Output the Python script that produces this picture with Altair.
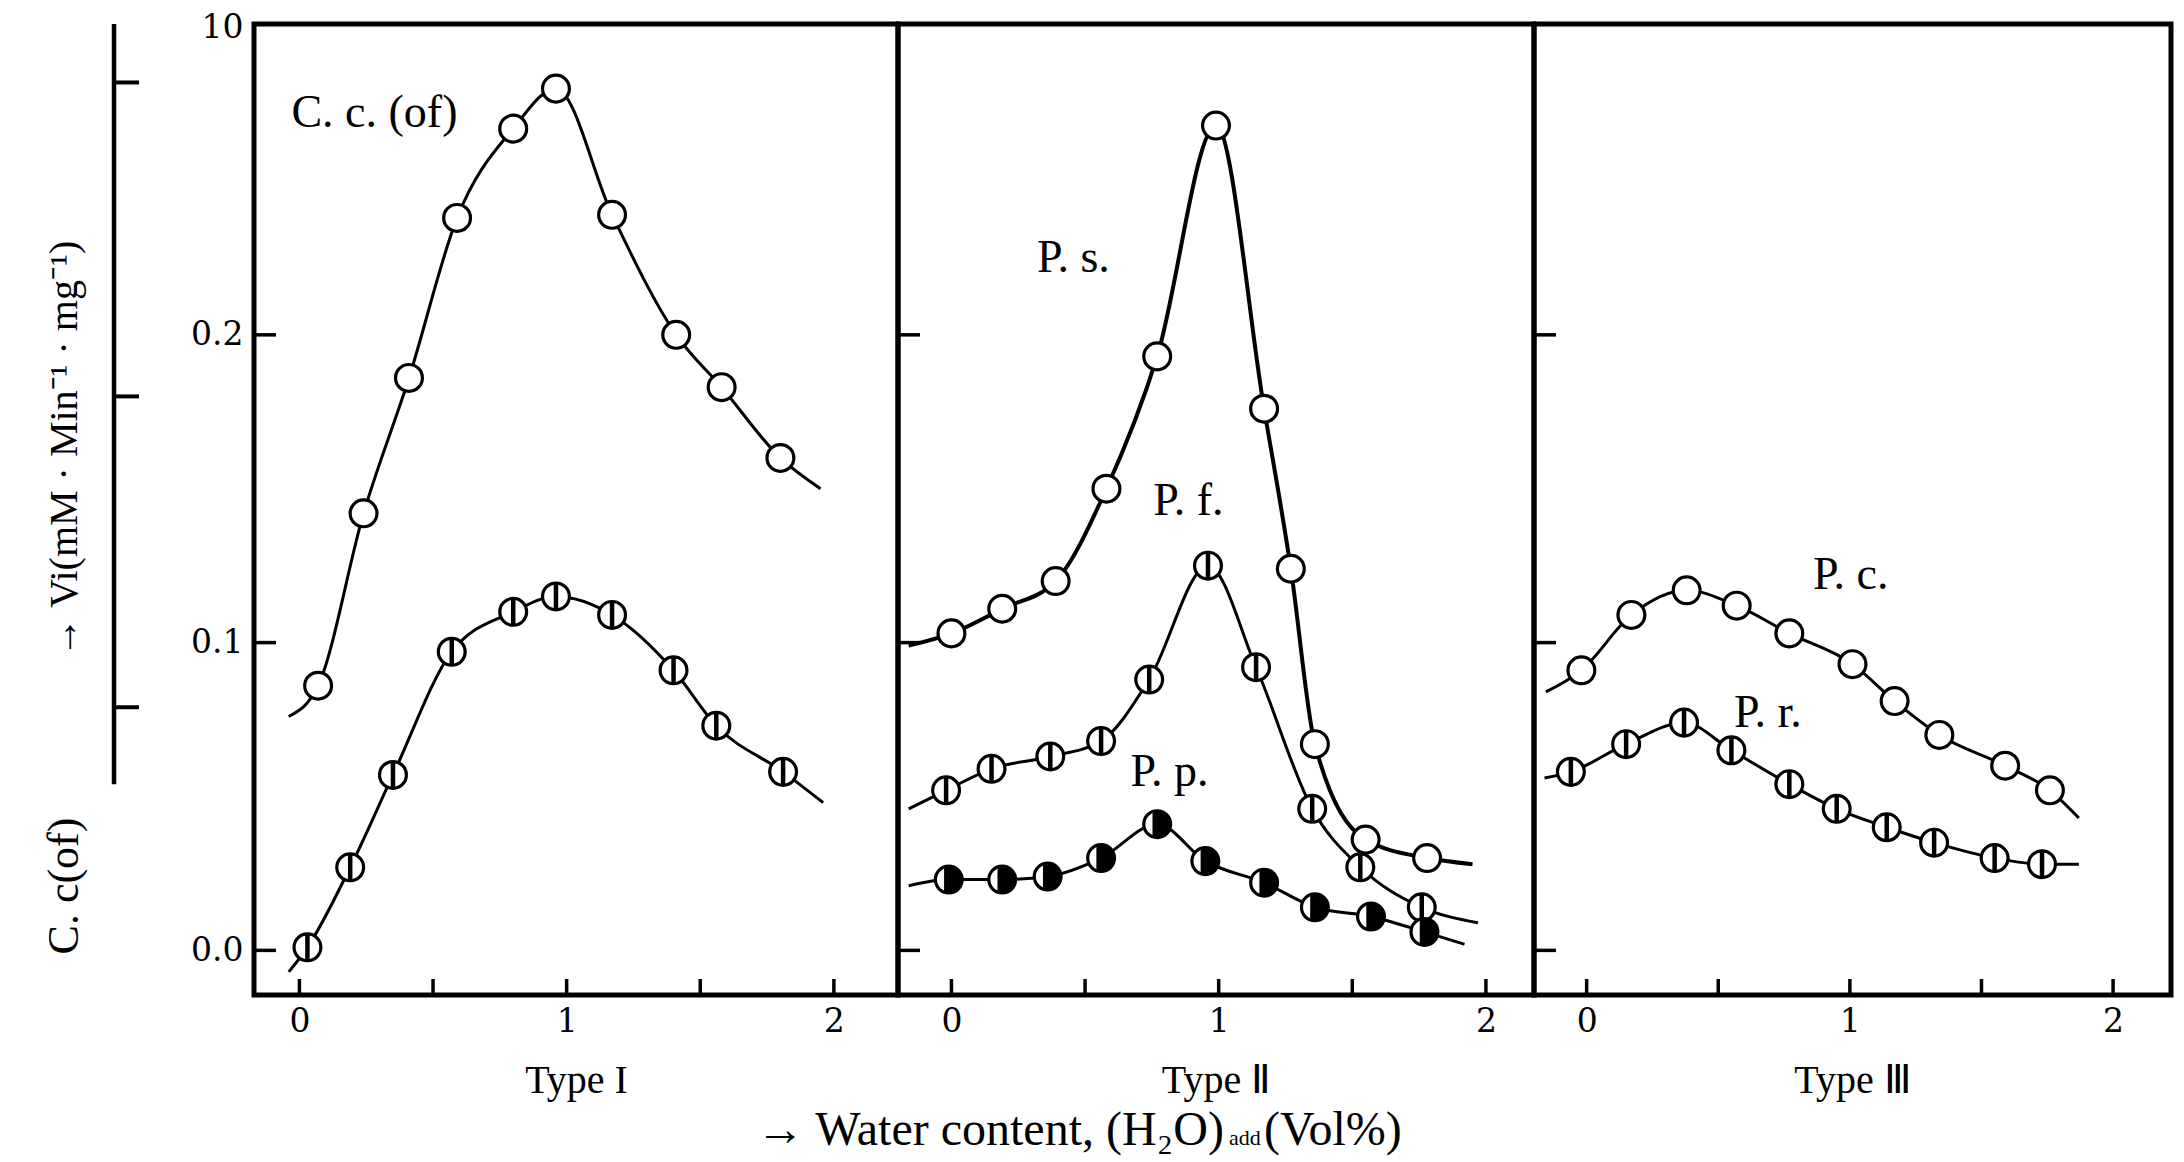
import altair as alt
import pandas as pd

FONT = "Liberation Serif"
NUMFONT = "DejaVu Serif"

# ---------------- data ----------------
# Type I
cc_open_x = [0.07, 0.24, 0.41, 0.59, 0.80, 0.96, 1.17, 1.41, 1.58, 1.80]
cc_open_y = [0.086, 0.142, 0.186, 0.238, 0.267, 0.280, 0.239, 0.200, 0.183, 0.160]
cc_open_ends = [(-0.04, 0.076), (1.95, 0.150)]

cc_bar_x = [0.03, 0.19, 0.35, 0.57, 0.80, 0.96, 1.17, 1.40, 1.56, 1.81]
cc_bar_y = [0.001, 0.027, 0.057, 0.097, 0.110, 0.115, 0.109, 0.091, 0.073, 0.058]
cc_bar_ends = [(-0.04, -0.007), (1.96, 0.048)]

# Type II
ps_x = [0.00, 0.19, 0.39, 0.58, 0.77, 0.99, 1.17, 1.27, 1.36, 1.55, 1.78]
ps_y = [0.103, 0.111, 0.120, 0.150, 0.193, 0.268, 0.176, 0.124, 0.067, 0.036, 0.030]
ps_ends = [(-0.16, 0.099), (1.95, 0.028)]

pf_x = [-0.02, 0.15, 0.37, 0.56, 0.74, 0.96, 1.14, 1.35, 1.53, 1.76]
pf_y = [0.052, 0.059, 0.063, 0.068, 0.088, 0.125, 0.092, 0.046, 0.027, 0.014]
pf_ends = [(-0.16, 0.046), (1.97, 0.009)]

pp_x = [-0.01, 0.19, 0.36, 0.56, 0.77, 0.95, 1.17, 1.36, 1.57, 1.77]
pp_y = [0.023, 0.023, 0.024, 0.030, 0.041, 0.029, 0.022, 0.014, 0.011, 0.006]
pp_ends = [(-0.16, 0.021), (1.92, 0.002)]

# Type III
pc_x = [-0.02, 0.17, 0.38, 0.57, 0.77, 1.01, 1.17, 1.34, 1.59, 1.76]
pc_y = [0.091, 0.109, 0.117, 0.112, 0.103, 0.093, 0.081, 0.070, 0.060, 0.052]
pc_ends = [(-0.155, 0.084), (1.87, 0.043)]

pr_x = [-0.06, 0.15, 0.37, 0.55, 0.77, 0.95, 1.14, 1.32, 1.55, 1.73]
pr_y = [0.058, 0.067, 0.074, 0.065, 0.054, 0.046, 0.040, 0.035, 0.030, 0.028]
pr_ends = [(-0.16, 0.056), (1.87, 0.028)]

# curve labels (text, x, y) per panel
labels_1 = [("C. c. (of)", -0.03, 0.272)]
labels_2 = [("P. s.", 0.32, 0.225), ("P. f.", 0.755, 0.146), ("P. p.", 0.67, 0.058)]
labels_3 = [("P. c.", 0.86, 0.122), ("P. r.", 0.56, 0.077)]

# secondary (C. c(of)) scale drawn at far left, in main-axis units
cc_axis_span = [0.301, 0.054]
cc_axis_ticks = [0.282, 0.180, 0.079]

y_tick_values = [0.0, 0.1, 0.2, 0.3]
x_tick_values = [0.0, 0.5, 1.0, 1.5, 2.0]
x_label_values = [0, 1, 2]

x_domains = {1: [-0.17, 2.24], 2: [-0.2, 2.18], 3: [-0.2, 2.22]}
y_domain = [-0.0145, 0.301]
panel_titles = {1: "Type  I", 2: "Type  Ⅱ", 3: "Type  Ⅲ"}

series = [
    dict(panel=1, name="cc_open", marker="open", x=cc_open_x, y=cc_open_y, ends=cc_open_ends, w=3),
    dict(panel=1, name="cc_bar", marker="bar", x=cc_bar_x, y=cc_bar_y, ends=cc_bar_ends, w=3),
    dict(panel=2, name="ps", marker="open", x=ps_x, y=ps_y, ends=ps_ends, w=4),
    dict(panel=2, name="pf", marker="bar", x=pf_x, y=pf_y, ends=pf_ends, w=3),
    dict(panel=2, name="pp", marker="filled", x=pp_x, y=pp_y, ends=pp_ends, w=3),
    dict(panel=3, name="pc", marker="open", x=pc_x, y=pc_y, ends=pc_ends, w=3),
    dict(panel=3, name="pr", marker="bar", x=pr_x, y=pr_y, ends=pr_ends, w=3),
]

pt_rows, ln_rows = [], []
for s in series:
    for xv, yv in zip(s["x"], s["y"]):
        pt_rows.append(dict(panel=s["panel"], series=s["name"], marker=s["marker"], x=xv, y=yv))
    line_pts = [s["ends"][0]] + list(zip(s["x"], s["y"])) + [s["ends"][1]]
    for i, (xv, yv) in enumerate(line_pts):
        ln_rows.append(dict(panel=s["panel"], series=s["name"], order=i, x=xv, y=yv, w=s["w"]))
pts = pd.DataFrame(pt_rows)
lns = pd.DataFrame(ln_rows)

W = {1: 644, 2: 636, 3: 637}
H = 971
MSIZE = 720
BAR_PATH = "M0,-1L0,1"
FILL_PATH = "M-0.35,-0.937A1,1,0,1,1,-0.35,0.937Z"


def text_at(t, x, y, size, angle=0, align="center", baseline="middle"):
    kw = dict(font=FONT, fontSize=size, color="black", align=align, baseline=baseline)
    if angle:
        kw["angle"] = angle
    return alt.Chart(pd.DataFrame({"t": [t]})).mark_text(**kw).encode(
        text="t:N", x=alt.value(x), y=alt.value(y))


def make_panel(p, labels):
    xs = alt.Scale(domain=x_domains[p], nice=False, zero=False)
    ys = alt.Scale(domain=y_domain, nice=False, zero=False)
    x_axis = alt.Axis(values=x_label_values, format="d", ticks=False, domain=False, grid=False,
                      labelFont=NUMFONT, labelFontSize=33, labelPadding=10, labelColor="black",
                      title=panel_titles[p], titleFont=FONT, titleFontSize=40,
                      titleFontWeight="normal", titlePadding=22, titleColor="black")
    if p == 1:
        y_axis = alt.Axis(values=y_tick_values, ticks=False, domain=False, grid=False,
                          labelExpr="datum.value == 0.3 ? '10' : format(datum.value, '.1f')",
                          labelFont=NUMFONT, labelFontSize=33, labelFontWeight="normal",
                          labelPadding=11, labelColor="black", title=None)
    else:
        y_axis = None

    X = lambda f="x": alt.X(f"{f}:Q", scale=xs, axis=x_axis)
    Y = lambda f="y": alt.Y(f"{f}:Q", scale=ys, axis=y_axis)

    lp = lns[lns.panel == p]
    pp_ = pts[pts.panel == p]

    line = alt.Chart(lp).mark_line(color="black", interpolate="monotone").encode(
        x=X(), y=Y(), detail="series:N", order="order:Q",
        strokeWidth=alt.StrokeWidth("w:Q", scale=None, legend=None))

    circles = alt.Chart(pp_).mark_circle(size=MSIZE, color="white", stroke="black",
                                         strokeWidth=3.2, opacity=1).encode(x=X(), y=Y())
    layers = [line, circles]

    bars = pp_[pp_.marker == "bar"]
    if len(bars):
        layers.append(alt.Chart(bars).mark_point(shape=BAR_PATH, size=MSIZE, filled=False,
                                                 color="black", strokeWidth=4.5, opacity=1)
                      .encode(x=X(), y=Y()))
    filled = pp_[pp_.marker == "filled"]
    if len(filled):
        layers.append(alt.Chart(filled).mark_point(shape=FILL_PATH, size=MSIZE, filled=True,
                                                   color="black", opacity=1)
                      .encode(x=X(), y=Y()))

    lab = pd.DataFrame(labels, columns=["t", "x", "y"])
    layers.append(alt.Chart(lab).mark_text(align="left", baseline="middle", font=FONT,
                                           fontSize=46, color="black")
                  .encode(x=X(), y=Y(), text="t:N"))

    # inward ticks
    yt = pd.DataFrame({"v": y_tick_values[:3]})
    layers.append(alt.Chart(yt).mark_rule(color="black", strokeWidth=3.5)
                  .encode(y=Y("v"), x=alt.value(0), x2=alt.value(22)))
    xt = pd.DataFrame({"v": x_tick_values})
    layers.append(alt.Chart(xt).mark_rule(color="black", strokeWidth=3.5)
                  .encode(x=X("v"), y=alt.value(H), y2=alt.value(H - 16)))

    if p == 1:
        sp = pd.DataFrame({"a": [cc_axis_span[0]], "b": [cc_axis_span[1]]})
        layers.append(alt.Chart(sp).mark_rule(color="black", strokeWidth=4.5)
                      .encode(x=alt.value(-140), y=Y("a"), y2="b:Q"))
        ct = pd.DataFrame({"v": cc_axis_ticks})
        layers.append(alt.Chart(ct).mark_rule(color="black", strokeWidth=4)
                      .encode(y=Y("v"), x=alt.value(-140), x2=alt.value(-115)))
        layers.append(text_at("C. c(of)", -189, 862, 44, angle=270))
        layers.append(text_at("→ Vi(mM · Min⁻¹ · mg⁻¹)", -189, 425, 40, angle=270))

    if p == 2:
        base = H + 150
        layers.append(text_at("→ Water content, (H₂O)", 326, base, 48, align="right",
                              baseline="alphabetic"))
        layers.append(text_at("add", 331, base, 22, align="left", baseline="alphabetic"))
        layers.append(text_at("(Vol%)", 366, base, 48, align="left", baseline="alphabetic"))

    return alt.layer(*layers).properties(width=W[p], height=H)


chart = alt.hconcat(
    make_panel(1, labels_1), make_panel(2, labels_2), make_panel(3, labels_3),
    spacing=0, bounds="flush"
).properties(
    padding={"left": 40, "top": 8, "right": 10, "bottom": 20},
    background="white",
).configure_view(stroke="black", strokeWidth=5)

chart.save("out.html", embed_options={"renderer": "svg", "actions": False})
